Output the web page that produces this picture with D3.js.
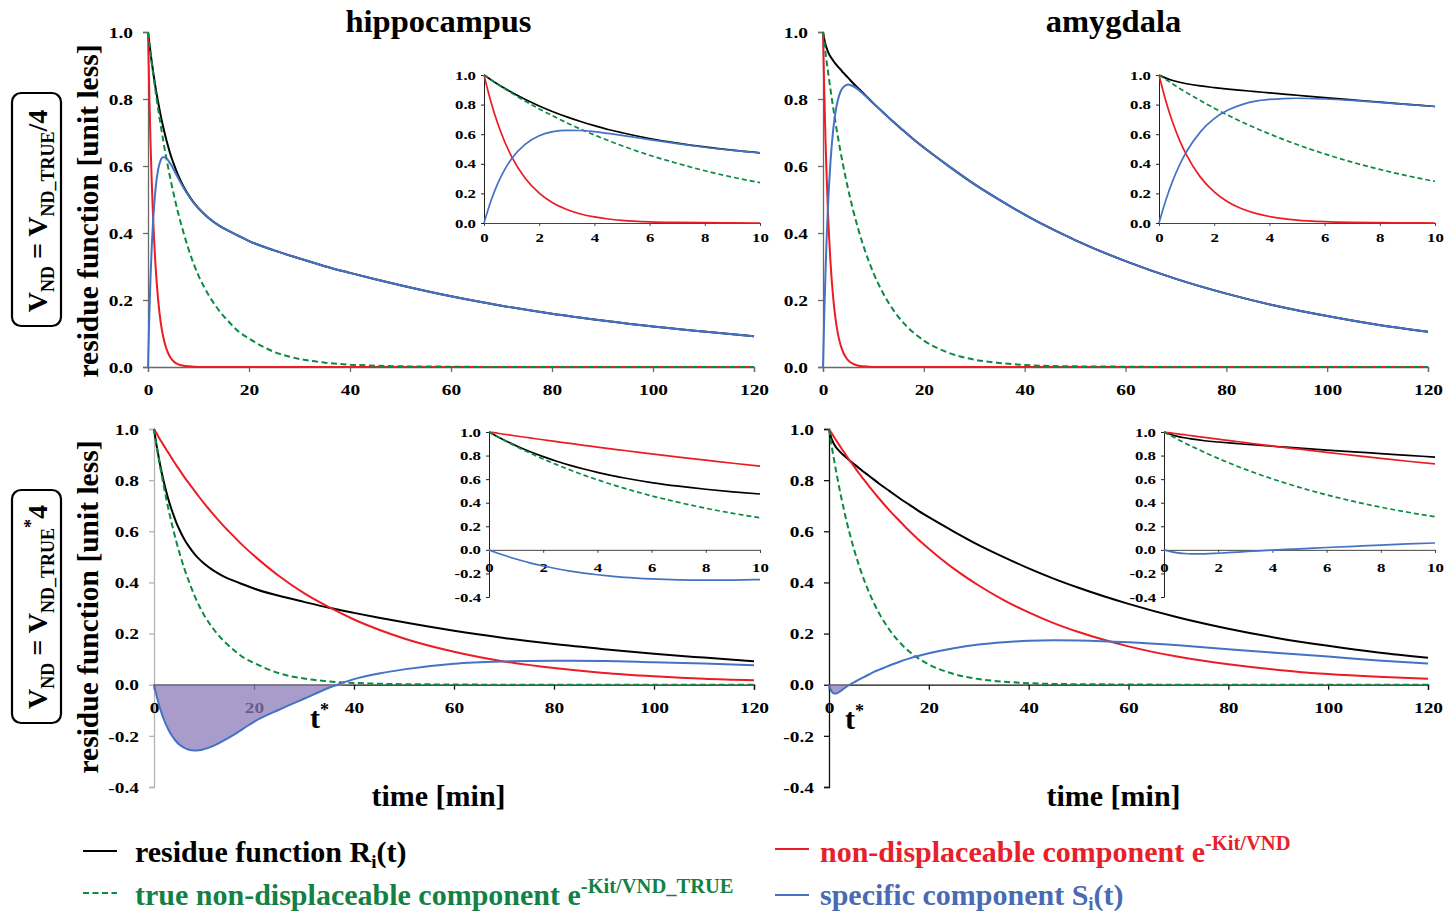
<!DOCTYPE html>
<html>
<head>
<meta charset="utf-8">
<script src="https://cdn.jsdelivr.net/npm/d3@7"></script>
<style>
  body { margin: 0; background: #fff; }
  svg text { font-family: "Liberation Serif", "Times New Roman", serif; font-weight: bold; }
</style>
</head>
<body>
<svg id="chart" width="1456" height="915"></svg>
<script>
// Sampling times [min]
const time = [0,0.25,0.5,0.75,1,1.5,2,2.5,3,3.5,4,4.5,5,6,7,8,9,10,12,14,16,18,20,25,30,35,40,45,50,60,70,80,90,100,110,120];

// Hippocampus
const hippoResidue = [1.000,0.968,0.938,0.910,0.883,0.834,0.791,0.752,0.717,0.686,0.658,0.632,0.610,0.571,0.540,0.514,0.492,0.474,0.445,0.423,0.406,0.391,0.376,0.348,0.324,0.301,0.281,0.262,0.244,0.211,0.183,0.159,0.139,0.121,0.106,0.092];
const hippoTrueND = [1.000,0.968,0.937,0.907,0.878,0.823,0.771,0.723,0.677,0.634,0.595,0.557,0.522,0.458,0.403,0.353,0.310,0.273,0.215,0.170,0.135,0.105,0.085,0.045,0.024,0.013,0.007,0.004,0.002,0.001,0,0,0,0,0,0];
const hippoNDQuarter = [1.000,0.819,0.670,0.549,0.449,0.301,0.202,0.135,0.091,0.061,0.041,0.027,0.018,0.008,0.004,0.002,0.001,0,0,0,0,0,0,0,0,0,0,0,0,0,0,0,0,0,0,0];
const hippoSpecificQuarter = [0.000,0.149,0.268,0.361,0.434,0.533,0.589,0.617,0.626,0.625,0.617,0.605,0.592,0.563,0.536,0.512,0.491,0.474,0.445,0.423,0.406,0.391,0.376,0.348,0.324,0.301,0.281,0.262,0.244,0.211,0.183,0.159,0.139,0.121,0.106,0.092];
const hippoNDQuad = [1.000,0.992,0.983,0.975,0.966,0.950,0.934,0.918,0.903,0.887,0.872,0.857,0.843,0.814,0.787,0.761,0.735,0.710,0.663,0.619,0.579,0.540,0.505,0.425,0.358,0.303,0.255,0.215,0.181,0.129,0.091,0.065,0.046,0.033,0.023,0.017];
const hippoSpecificQuad = [0.000,-0.022,-0.042,-0.061,-0.078,-0.110,-0.137,-0.160,-0.180,-0.197,-0.211,-0.223,-0.233,-0.246,-0.254,-0.257,-0.256,-0.252,-0.238,-0.218,-0.195,-0.170,-0.145,-0.098,-0.055,-0.012,0.022,0.044,0.060,0.082,0.091,0.094,0.093,0.088,0.083,0.076];

// Amygdala
const amygResidue = [1.000,0.979,0.963,0.951,0.941,0.926,0.915,0.905,0.896,0.888,0.879,0.871,0.863,0.847,0.832,0.817,0.802,0.787,0.759,0.731,0.705,0.679,0.655,0.599,0.546,0.499,0.455,0.415,0.379,0.316,0.263,0.219,0.182,0.152,0.126,0.105];
const amygTrueND = [1.000,0.969,0.939,0.909,0.881,0.827,0.776,0.728,0.683,0.641,0.602,0.565,0.530,0.467,0.411,0.362,0.319,0.281,0.218,0.169,0.131,0.102,0.079,0.042,0.022,0.012,0.006,0.003,0.002,0.001,0,0,0,0,0,0];
const amygNDQuarter = [1.000,0.823,0.677,0.557,0.458,0.310,0.210,0.142,0.096,0.065,0.044,0.030,0.020,0.009,0.004,0.002,0.001,0,0,0,0,0,0,0,0,0,0,0,0,0,0,0,0,0,0,0];
const amygSpecificQuarter = [0.000,0.156,0.286,0.394,0.483,0.616,0.705,0.763,0.800,0.823,0.835,0.841,0.843,0.838,0.828,0.815,0.801,0.787,0.759,0.731,0.705,0.679,0.655,0.599,0.546,0.499,0.455,0.415,0.379,0.316,0.263,0.219,0.182,0.152,0.126,0.105];
const amygNDQuad = [1.000,0.992,0.984,0.977,0.969,0.954,0.939,0.924,0.910,0.895,0.881,0.867,0.854,0.827,0.802,0.777,0.752,0.729,0.684,0.643,0.603,0.566,0.532,0.454,0.388,0.331,0.283,0.241,0.206,0.150,0.109,0.080,0.058,0.042,0.031,0.023];
const amygSpecificQuad = [0.000,-0.015,-0.025,-0.031,-0.034,-0.034,-0.029,-0.022,-0.015,-0.008,-0.002,0.004,0.009,0.020,0.030,0.040,0.050,0.058,0.074,0.089,0.102,0.113,0.123,0.143,0.157,0.166,0.172,0.174,0.173,0.166,0.154,0.139,0.124,0.110,0.095,0.083];

// Axis ticks
const mainTimeTicks = [0,20,40,60,80,100,120];
const insetTimeTicks = [0,2,4,6,8,10];
const topValueTicks = [0,0.2,0.4,0.6,0.8,1.0];
const bottomValueTicks = [-0.4,-0.2,0,0.2,0.4,0.6,0.8,1.0];

const regionNames = ["hippocampus","amygdala"];

const COL = { residue: "#000000", nd: "#ed1c24", trueNd: "#0c8a44", specific: "#4472c4", fill: "#8c7bb8" };

const svg = d3.select("#chart");

function series(t, v) { return t.map((d, i) => ({ t: d, v: v[i] })); }

function rich(parent, x, y, parts, opts) {
  const t = parent.append("text").attr("x", x).attr("y", y)
    .attr("font-size", opts.size).attr("fill", opts.color || "#000")
    .attr("text-anchor", opts.anchor || "start");
  if (opts.transform) t.attr("transform", opts.transform);
  parts.forEach(p => {
    const ts = t.append("tspan").text(p.t);
    if (p.size) ts.attr("font-size", p.size);
    if (p.dy) ts.attr("dy", p.dy);
  });
  return t;
}

function axis(g, scale, orient, o) {
  const ax = (orient === "left" ? d3.axisLeft(scale) : d3.axisBottom(scale))
    .tickValues(o.ticks).tickSizeOuter(0).tickSize(o.tickLen)
    .tickFormat(d => o.fmt(d));
  const ag = g.append("g").attr("transform", o.translate).call(ax)
    .attr("font-family", null).attr("font-size", null);
  ag.select(".domain").attr("stroke", o.color).attr("stroke-width", o.width);
  ag.selectAll(".tick line").attr("stroke", o.color).attr("stroke-width", o.width);
  const tx = ag.selectAll(".tick text").attr("fill", "#000").attr("font-size", o.font)
    .attr("transform", `scale(${o.sx},1)`);
  if (orient === "left") tx.attr("x", -o.gap / o.sx).attr("dy", "0.34em");
  else tx.attr("y", o.gap).attr("dy", 0);
  return ag;
}

// panel geometry
const panels = [
  { region: 0, row: 0, x: [148, 754], y: [367, 32], yd: [0, 1], yt: topValueTicks, yCol: "#6a6a6a", xCol: "#6a6a6a",
    inset: { x: [484, 760], y: [223, 75], yd: [0, 1], yt: topValueTicks } },
  { region: 1, row: 0, x: [823, 1428], y: [367, 32], yd: [0, 1], yt: topValueTicks, yCol: "#6a6a6a", xCol: "#6a6a6a",
    inset: { x: [1159, 1435], y: [223, 75], yd: [0, 1], yt: topValueTicks } },
  { region: 0, row: 1, x: [154, 754], y: [787, 429], yd: [-0.4, 1], yt: bottomValueTicks, yCol: "#b4b4b4", xCol: "#111",
    inset: { x: [489, 760], y: [597, 432], yd: [-0.4, 1], yt: bottomValueTicks } },
  { region: 1, row: 1, x: [829, 1428], y: [787, 429], yd: [-0.4, 1], yt: bottomValueTicks, yCol: "#111", xCol: "#111",
    inset: { x: [1164, 1435], y: [597, 432], yd: [-0.4, 1], yt: bottomValueTicks } }
];

const dataSets = [
  [ { residue: hippoResidue, trueNd: hippoTrueND, nd: hippoNDQuarter, specific: hippoSpecificQuarter },
    { residue: hippoResidue, trueNd: hippoTrueND, nd: hippoNDQuad, specific: hippoSpecificQuad } ],
  [ { residue: amygResidue, trueNd: amygTrueND, nd: amygNDQuarter, specific: amygSpecificQuarter },
    { residue: amygResidue, trueNd: amygTrueND, nd: amygNDQuad, specific: amygSpecificQuad } ]
];

const fmt1 = d => d.toFixed(1);
const fmt0 = d => String(d);

function drawLines(g, xs, ys, ds, tMax, lw, dash) {
  const line = d3.line().x(d => xs(d.t)).y(d => ys(d.v)).curve(d3.curveMonotoneX);
  const order = [
    { key: "residue", color: COL.residue },
    { key: "nd", color: COL.nd },
    { key: "trueNd", color: COL.trueNd, dash: dash },
    { key: "specific", color: COL.specific }
  ];
  order.forEach(s => {
    const pts = series(time, ds[s.key]).filter(d => d.t <= tMax);
    g.append("path").attr("d", line(pts)).attr("fill", "none")
      .attr("stroke", s.color).attr("stroke-width", lw)
      .attr("stroke-dasharray", s.dash || null)
      .attr("stroke-linejoin", "round");
  });
}

panels.forEach(p => {
  const ds = dataSets[p.region][p.row];
  const g = svg.append("g");
  const xs = d3.scaleLinear().domain([0, 120]).range(p.x);
  const ys = d3.scaleLinear().domain(p.yd).range(p.y);

  axis(g, ys, "left", { ticks: p.yt, tickLen: 5, fmt: fmt1, translate: `translate(${p.x[0]},0)`,
    color: p.yCol, width: 1.3, font: 15.5, sx: 1.25, gap: 15 });
  axis(g, xs, "bottom", { ticks: mainTimeTicks, tickLen: 5, fmt: fmt0, translate: `translate(0,${ys(0)})`,
    color: p.xCol, width: 1.3, font: 15.5, sx: 1.25, gap: 28 });

  // shaded region where the specific component is negative
  if (p.row === 1) {
    const area = d3.area().x(d => xs(d.t)).y0(ys(0)).y1(d => ys(Math.min(d.v, 0))).curve(d3.curveMonotoneX);
    const neg = series(time, ds.specific).filter(d => d.t <= 40);
    g.append("path").attr("d", area(neg)).attr("fill", COL.fill).attr("fill-opacity", 0.75);
  }

  drawLines(g, xs, ys, ds, 120, 2, "6,3.5");

  // inset zoom on the first 10 minutes
  const ig = svg.append("g");
  const ixs = d3.scaleLinear().domain([0, 10]).range(p.inset.x);
  const iys = d3.scaleLinear().domain(p.inset.yd).range(p.inset.y);
  axis(ig, iys, "left", { ticks: p.inset.yt, tickLen: 3, fmt: fmt1, translate: `translate(${p.inset.x[0]},0)`,
    color: "#222", width: 1, font: 12, sx: 1.4, gap: 8 });
  axis(ig, ixs, "bottom", { ticks: insetTimeTicks, tickLen: 3, fmt: fmt0, translate: `translate(0,${iys(0)})`,
    color: "#444", width: 1, font: 12, sx: 1.4, gap: p.row === 0 ? 19 : 22 });
  drawLines(ig, ixs, iys, ds, 10, 1.7, "5,3");
});

// region titles and time labels
[438.5, 1113.5].forEach((cx, i) => {
  svg.append("text").attr("x", cx).attr("y", 32).attr("text-anchor", "middle")
    .attr("font-size", 32.5).text(regionNames[i]);
  svg.append("text").attr("x", cx).attr("y", 806).attr("text-anchor", "middle")
    .attr("font-size", 30).text("time [min]");
});

// row labels
[{ cy: 211, top: 93 }, { cy: 607, top: 490 }].forEach((r, i) => {
  svg.append("rect").attr("x", 12).attr("y", r.top).attr("width", 49).attr("height", 233)
    .attr("rx", 9).attr("fill", "none").attr("stroke", "#000").attr("stroke-width", 2.2);
  const parts = [
    { t: "V" }, { t: "ND", size: 18, dy: 7 }, { t: " = V", dy: -7 }, { t: "ND_TRUE", size: 18, dy: 7 }
  ];
  if (i === 0) parts.push({ t: "/4", dy: -7 });
  else { parts.push({ t: "*", size: 18, dy: -17 }); parts.push({ t: "4", dy: 10 }); }
  rich(svg, 0, 0, parts, { size: 28, anchor: "middle", transform: `translate(47,${r.cy}) rotate(-90)` });
  svg.append("text").attr("transform", `translate(98,${r.cy}) rotate(-90)`)
    .attr("text-anchor", "middle").attr("font-size", 29.5).text("residue function [unit less]");
});

// t* markers
[[310, 728], [845, 729]].forEach(([x, y]) => {
  rich(svg, x, y, [{ t: "t" }, { t: "*", size: 18, dy: -12 }], { size: 30 });
});

// legend
const legend = [
  { x: 83, y: 851, tx: 135, ty: 862, color: COL.residue, text: "#000",
    parts: [{ t: "residue function R" }, { t: "i", size: 19, dy: 6 }, { t: "(t)", dy: -6 }] },
  { x: 775, y: 849, tx: 820, ty: 862, color: COL.nd, text: "#e8202a",
    parts: [{ t: "non-displaceable component e" }, { t: "-Kit/VND", size: 20.5, dy: -12 }] },
  { x: 83, y: 893, tx: 135, ty: 905, color: COL.trueNd, dash: "6,3.5", text: "#138146",
    parts: [{ t: "true non-displaceable component e" }, { t: "-Kit/VND_TRUE", size: 20.5, dy: -12 }] },
  { x: 775, y: 895, tx: 820, ty: 905, color: COL.specific, text: "#4a6bb3",
    parts: [{ t: "specific component S" }, { t: "i", size: 19, dy: 5 }, { t: "(t)", dy: -5 }] }
];
legend.forEach(l => {
  svg.append("line").attr("x1", l.x).attr("x2", l.x + 34).attr("y1", l.y).attr("y2", l.y)
    .attr("stroke", l.color).attr("stroke-width", 2).attr("stroke-dasharray", l.dash || null);
  rich(svg, l.tx, l.ty, l.parts, { size: 30, color: l.text });
});
</script>
</body>
</html>
